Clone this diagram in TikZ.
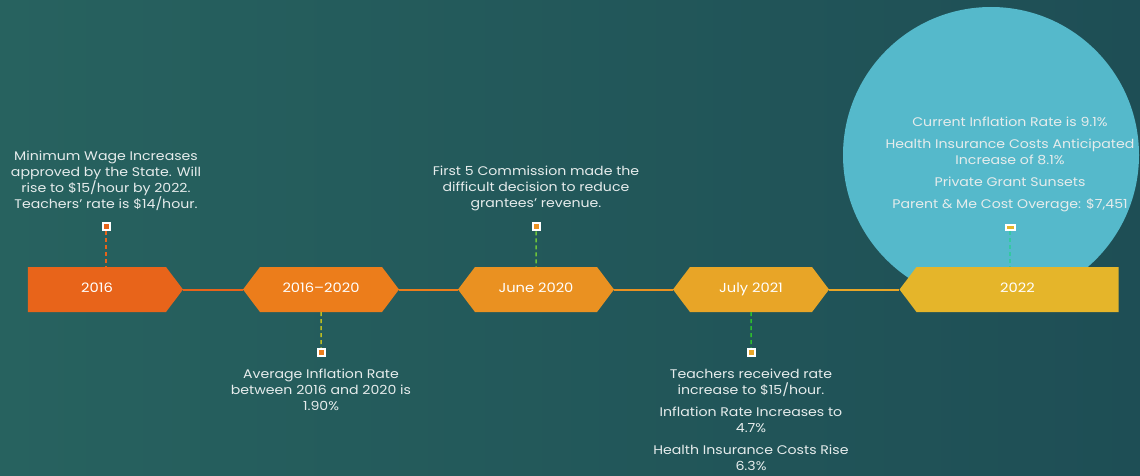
\documentclass[tikz,border=0pt]{standalone}
\usepackage{fontspec}
\setmainfont{Poppins}[FakeStretch=1.13]
\usetikzlibrary{positioning,shapes.symbols}

\definecolor{bgl}{HTML}{27625F}
\definecolor{bgr}{HTML}{1E4E55}
\definecolor{cA}{HTML}{E8641A}
\definecolor{cB}{HTML}{EC7D1B}
\definecolor{cC}{HTML}{EA9121}
\definecolor{cD}{HTML}{E8A527}
\definecolor{cE}{HTML}{E5B52A}
\definecolor{circ}{HTML}{55B9CB}
\definecolor{txt}{HTML}{E6ECEC}
\definecolor{dB}{HTML}{BDBD22}
\definecolor{dC}{HTML}{6DC43B}
\definecolor{dD}{HTML}{2EBE2E}
\definecolor{dE}{HTML}{34C8A2}

\tikzset{
  year/.style={signal, signal pointer angle=106, minimum height=45pt, inner sep=0pt,
    text height=.72em, text depth=.22em,
    fill=#1, text=white, font=\fontsize{13}{15}\selectfont},
  stamp/.style={draw=white, line width=2pt, fill=#1, minimum size=7pt, inner sep=0pt},
  note/.style={text=txt, align=center, font=\fontsize{12.5}{16}\selectfont, inner sep=0pt},
  link/.style={line width=2pt, draw=#1},
  stem/.style={line width=1.5pt, draw=#1, dash pattern=on 4pt off 3pt}
}

\begin{document}
\begin{tikzpicture}[x=1pt, y=-1pt]
    \shade[left color=bgl, right color=bgr] (0,0) rectangle (1140,476); % background
    \fill[circ] (991,155) circle (148); %
    % years
    \node[year=cA, signal to=east, minimum width=155pt] (y16) at (97,289.5) {2016}; %
    \node[year=cB, signal to=west and east, minimum width=156pt] (y1620) at (321,289.5) {2016–2020}; %
    \node[year=cC, signal to=west and east, minimum width=156pt] (y20) at (536,289.5) {June 2020}; %
    \node[year=cD, signal to=west and east, minimum width=156pt] (y21) at (751,289.5) {July 2021}; %
    \node[year=cE, signal to=west, minimum width=219pt] (y22) at (1017.5,289.5) {2022}; %
    \draw[link=cA] (y16.east) -- (y1620.west); %
    \draw[link=cB] (y1620.east) -- (y20.west); %
    \draw[link=cC] (y20.east) -- (y21.west); %
    \draw[link=cD] (y21.east) -- (y22.west); %
    % markers
    \node[stamp=cA, above=35.5pt of y16, xshift=9pt] (m16) {}; %
    \node[stamp=cB, below=35.5pt of y1620] (m1620) {}; %
    \node[stamp=cC, above=35.5pt of y20] (m20) {}; %
    \node[stamp=cD, below=35.5pt of y21] (m21) {}; %
    \node[stamp=cE, minimum width=9pt, minimum height=5pt, above=36pt of y22, xshift=-7.5pt] (m22) {}; %
    \draw[stem=cA] (m16) -- (m16 |- y16.north); %
    \draw[stem=dB] (y1620) -- (m1620); %
    \draw[stem=dC] (m20) -- (y20); %
    \draw[stem=dD] (y21) -- (m21); %
    \draw[stem=dE] (m22) -- (m22 |- y22.north); %
    % notes
    \node[note, above=11pt of m16] (t16) {Minimum Wage Increases\\approved by the State. Will\\rise to \$15/hour by 2022.\\Teachers’ rate is \$14/hour.}; %
    \node[note, below=12pt of m1620] (t1620) {Average Inflation Rate\\between 2016 and 2020 is\\1.90\%}; %
    \node[note, above=11pt of m20] (t20) {First 5 Commission made the\\difficult decision to reduce\\grantees’ revenue.}; %
    \node[note, below=12pt of m21] (t21) {Teachers received rate\\increase to \$15/hour.\\[6pt]Inflation Rate Increases to\\4.7\%\\[6pt]Health Insurance Costs Rise\\6.3\%}; %
    \node[note, above=12pt of m22] (t22) {Current Inflation Rate is 9.1\%\\[6pt]Health Insurance Costs Anticipated\\Increase of 8.1\%\\[6pt]Private Grant Sunsets\\[6pt]Parent \& Me Cost Overage: \$7,451}; %
\end{tikzpicture}
\end{document}
